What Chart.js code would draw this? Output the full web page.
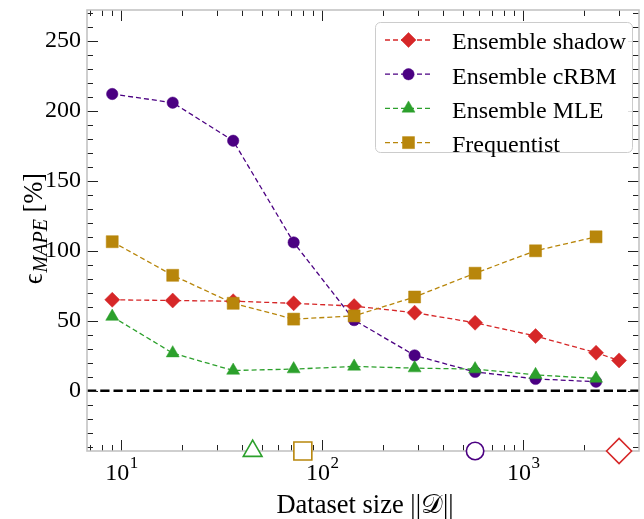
<!DOCTYPE html>
<html>
<head>
<meta charset="utf-8">
<script src="https://cdn.jsdelivr.net/npm/chart.js@4.4.1/dist/chart.umd.min.js"></script>
<style>
  html, body { margin: 0; padding: 0; background: #fff; }
  #wrap { width: 644px; height: 519px; }
</style>
</head>
<body>
<div id="wrap"><canvas id="chart"></canvas></div>
<script>
// dataset sizes |D| and MAPE values (%)
const sizes = [9, 18, 36, 72, 144, 288, 576, 1152, 2304];
const shadowSizes = [9, 18, 36, 72, 144, 288, 576, 1152, 2304, 3000];
const shadowErr = [65, 64.5, 64, 62.5, 60.5, 55.8, 48.6, 39.1, 27.2, 21.7];
const crbmErr = [212, 205.8, 178.6, 106, 50.5, 25.3, 13.5, 8.5, 6.5];
const mleErr = [53, 26.9, 14.5, 15.5, 17.4, 16.2, 15.5, 11.4, 8.8];
const freqErr = [106.5, 82.5, 62.5, 51.2, 53.5, 67, 84, 100, 110];
// hollow markers on the bottom axis: MLE, Frequentist, cRBM, shadow
const thresholdSizes = [45, 80, 576, 3000];

const xMajorTicks = [10, 100, 1000];
const yMajorTicks = [0, 50, 100, 150, 200, 250];
const X_MIN = 6.74, X_MAX = 3770;
const Y_MIN = -43, Y_MAX = 272;

const RED = '#d62728', INDIGO = '#4b0082', GREEN = '#2ca02c', GOLD = '#b8860b';
const SERIF = '"Liberation Serif", "Times New Roman", serif';
const DASH = [5, 3];

function pts(xs, ys) { return xs.map((x, i) => ({ x, y: ys[i] })); }

function series(label, xs, ys, color, style, radius, order) {
  return {
    type: 'line', label, data: pts(xs, ys), order,
    borderColor: color, borderWidth: 1.3, borderDash: DASH,
    pointStyle: style, pointRadius: radius, pointHoverRadius: radius,
    pointBackgroundColor: color, pointBorderColor: color, pointBorderWidth: 0.5,
    fill: false, tension: 0,
  };
}

const datasets = [
  series('Ensemble shadow', shadowSizes, shadowErr, RED, 'rectRot', 7.5, 4),
  series('Ensemble cRBM', sizes, crbmErr, INDIGO, 'circle', 5.7, 3),
  series('Ensemble MLE', sizes, mleErr, GREEN, 'triangle', 7.5, 2),
  series('Frequentist', sizes, freqErr, GOLD, 'rect', 8.5, 1),
  {
    type: 'scatter', label: 'thresholds', order: 0, clip: false,
    data: thresholdSizes.map(x => ({ x, y: Y_MIN })),
    pointStyle: ['triangle', 'rect', 'circle', 'rectRot'],
    pointRadius: [10.8, 12.7, 8.7, 12.5],
    pointBackgroundColor: '#fff',
    pointBorderColor: [GREEN, GOLD, INDIGO, RED],
    pointBorderWidth: 1.6,
  },
];

const axesDecor = {
  id: 'axesDecor',
  beforeDatasetsDraw(chart) {
    const { ctx, chartArea: a, scales: { x, y } } = chart;
    ctx.save();
    // zero reference line
    const y0 = y.getPixelForValue(0);
    ctx.strokeStyle = '#000';
    ctx.lineWidth = 2.5;
    ctx.setLineDash([9.25, 4]);
    ctx.beginPath(); ctx.moveTo(a.left, y0); ctx.lineTo(a.right, y0); ctx.stroke();
    ctx.setLineDash([]);

    // inward ticks on all four sides
    ctx.strokeStyle = '#222';
    ctx.lineWidth = 1;
    const tickY = (v, len) => {
      const p = Math.round(y.getPixelForValue(v)) + 0.5;
      ctx.beginPath();
      ctx.moveTo(a.left, p); ctx.lineTo(a.left + len, p);
      ctx.moveTo(a.right, p); ctx.lineTo(a.right - len, p);
      ctx.stroke();
    };
    const tickX = (v, len) => {
      const p = Math.round(x.getPixelForValue(v)) + 0.5;
      ctx.beginPath();
      ctx.moveTo(p, a.bottom); ctx.lineTo(p, a.bottom - len);
      ctx.moveTo(p, a.top); ctx.lineTo(p, a.top + len);
      ctx.stroke();
    };
    for (let v = -40; v <= Y_MAX; v += 10) tickY(v, v % 50 === 0 ? 11 : 6);
    for (let d = 1; d <= 1000; d *= 10) {
      for (let m = 1; m <= 9; m++) {
        const v = m * d;
        if (v < X_MIN || v > X_MAX) continue;
        tickX(v, m === 1 ? 11 : 6);
      }
    }

    // frame
    ctx.strokeStyle = '#c4c4c4';
    ctx.lineWidth = 1.6;
    ctx.strokeRect(a.left, a.top, a.right - a.left, a.bottom - a.top);
    ctx.restore();
  },
  afterDraw(chart) {
    const { ctx, chartArea: a, scales: { x } } = chart;
    ctx.save();
    ctx.fillStyle = '#000';
    ctx.textBaseline = 'alphabetic';
    // x tick labels 10^n
    xMajorTicks.forEach(v => {
      const px = x.getPixelForValue(v);
      const exp = String(Math.round(Math.log10(v)));
      ctx.font = '24px ' + SERIF;
      const wb = ctx.measureText('10').width;
      ctx.font = '17px ' + SERIF;
      const ws = ctx.measureText(exp).width;
      const x0 = px - (wb + ws) / 2;
      ctx.font = '24px ' + SERIF;
      ctx.fillText('10', x0, 480);
      ctx.font = '17px ' + SERIF;
      ctx.fillText(exp, x0 + wb + 0.5, 467.5);
    });

    // x axis title
    ctx.font = '26.5px ' + SERIF;
    ctx.textAlign = 'center';
    ctx.fillText('Dataset size ||𝒟||', (a.left + a.right) / 2 + 2, 513);

    // y axis title, rotated
    ctx.save();
    ctx.translate(42, 229);
    ctx.rotate(-Math.PI / 2);
    ctx.textAlign = 'left';
    const parts = [
      { t: 'ϵ', f: '26.5px ' + SERIF, dy: 0 },
      { t: 'MAPE', f: 'italic 20px ' + SERIF, dy: 5 },
      { t: ' [%]', f: '26.5px ' + SERIF, dy: 0 },
    ];
    let total = 0;
    parts.forEach(p => { ctx.font = p.f; p.w = ctx.measureText(p.t).width; total += p.w; });
    let cx = -total / 2;
    parts.forEach(p => { ctx.font = p.f; ctx.fillText(p.t, cx, p.dy); cx += p.w + (p.t === 'ϵ' ? 1 : 0); });
    ctx.restore();

    // legend
    const bx = 375.5, by = 22.5, bw = 257, bh = 130;
    ctx.beginPath();
    ctx.roundRect(bx, by, bw, bh, 5);
    ctx.fillStyle = 'rgba(255,255,255,0.85)';
    ctx.fill();
    ctx.strokeStyle = '#cccccc';
    ctx.lineWidth = 1;
    ctx.stroke();
    chart.data.datasets.slice(0, 4).forEach((ds, i) => {
      const ry = 40 + i * 34.2;
      ctx.strokeStyle = ds.borderColor;
      ctx.lineWidth = ds.borderWidth;
      ctx.setLineDash(DASH);
      ctx.beginPath(); ctx.moveTo(385, ry); ctx.lineTo(432, ry); ctx.stroke();
      ctx.setLineDash([]);
      ctx.fillStyle = ds.pointBackgroundColor;
      ctx.strokeStyle = ds.pointBorderColor;
      ctx.lineWidth = ds.pointBorderWidth;
      Chart.helpers.drawPoint(ctx, { pointStyle: ds.pointStyle, radius: ds.pointRadius, rotation: 0, borderWidth: ds.pointBorderWidth }, 408.5, ry);
      ctx.fillStyle = '#000';
      ctx.font = '24px ' + SERIF;
      ctx.textAlign = 'left';
      ctx.fillText(ds.label, 452, ry + 9.3);
    });
    ctx.restore();
  },
};

new Chart(document.getElementById('chart'), {
  data: { datasets },
  options: {
    responsive: true,
    maintainAspectRatio: false,
    animation: false,
    events: [],
    layout: { autoPadding: false, padding: { top: 10, right: 5, left: 0, bottom: 0 } },
    plugins: { legend: { display: false }, tooltip: { enabled: false } },
    scales: {
      x: {
        type: 'logarithmic', min: X_MIN, max: X_MAX,
        grid: { display: false, drawTicks: false },
        border: { display: false },
        ticks: { display: false },
        afterBuildTicks: s => { s.ticks = xMajorTicks.map(v => ({ value: v })); },
        afterFit: s => { s.height = 68; s.paddingLeft = 0; s.paddingRight = 0; },
      },
      y: {
        type: 'linear', min: Y_MIN, max: Y_MAX,
        grid: { display: false, drawTicks: false },
        border: { display: false },
        ticks: {
          padding: 6, color: '#000',
          font: { family: SERIF, size: 24 },
        },
        afterBuildTicks: s => { s.ticks = yMajorTicks.map(v => ({ value: v })); },
        afterFit: s => { s.width = 87; s.paddingTop = 0; s.paddingBottom = 0; },
      },
    },
  },
  plugins: [axesDecor],
});
</script>
</body>
</html>
